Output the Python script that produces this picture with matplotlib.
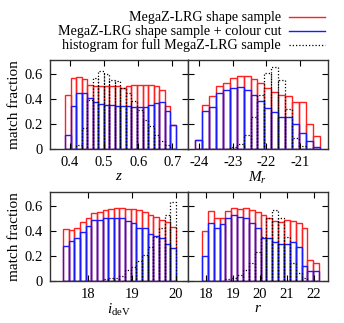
import numpy as np
import matplotlib
matplotlib.use("Agg")
import matplotlib.pyplot as plt
from matplotlib.lines import Line2D

plt.rcParams['font.family'] = ['Liberation Serif', 'DejaVu Serif']
plt.rcParams['mathtext.fontset'] = 'custom'
plt.rcParams['mathtext.rm'] = 'Liberation Serif'
plt.rcParams['mathtext.it'] = 'Liberation Serif:italic'
plt.rcParams['font.size'] = 10.5

# ---- data: z panel ----
z_start, z_width = 0.385, 0.01625
z_red = [0.43, 0.565, 0.573, 0.557, 0.51, 0.50, 0.50, 0.50, 0.50, 0.50,
         0.49, 0.50, 0.51, 0.51, 0.51, 0.51, 0.50, 0.47, 0.345, 0.194]
z_blue = [0.114, 0.345, 0.445, 0.45, 0.406, 0.374, 0.358, 0.353, 0.353, 0.347,
          0.347, 0.34, 0.332, 0.332, 0.337, 0.353, 0.366, 0.371, 0.30, 0.194]
z_full = [0.0, 0.0, 0.035, 0.167, 0.39, 0.57, 0.62, 0.60, 0.55, 0.54,
          0.485, 0.445, 0.38, 0.313, 0.233, 0.18, 0.114, 0.066, 0.03, 0.0]

# ---- data: M_r panel ----
m_start, m_width = -24.12, 0.206
m_red = [0.075, 0.35, 0.425, 0.50, 0.525, 0.565, 0.58, 0.58, 0.56, 0.527,
         0.487, 0.457, 0.43, 0.425, 0.376, 0.376, 0.196, 0.10]
m_blue = [0.075, 0.30, 0.336, 0.446, 0.47, 0.49, 0.497, 0.47, 0.43, 0.385,
          0.33, 0.296, 0.258, 0.258, 0.196, 0.124, 0.062, 0.016]
m_full = [0.0, 0.0, 0.0, 0.0, 0.0, 0.016, 0.04, 0.115, 0.255, 0.43,
          0.61, 0.655, 0.55, 0.32, 0.09, 0.02, 0.0, 0.0]

# ---- data: i_deV panel ----
i_start, i_width = 17.42, 0.129
i_red = [0.414, 0.41, 0.424, 0.467, 0.50, 0.546, 0.552, 0.568, 0.573, 0.586,
         0.586, 0.578, 0.573, 0.57, 0.552, 0.53, 0.512, 0.485, 0.472, 0.427]
i_blue = [0.28, 0.318, 0.345, 0.393, 0.44, 0.485, 0.485, 0.50, 0.504, 0.50,
          0.50, 0.48, 0.464, 0.424, 0.42, 0.374, 0.36, 0.34, 0.294, 0.265]
i_full = [0.0, 0.0, 0.0, 0.0, 0.0, 0.0, 0.0, 0.013, 0.02, 0.027,
          0.04, 0.088, 0.11, 0.16, 0.207, 0.273, 0.353, 0.424, 0.525, 0.63]

# ---- data: r panel ----
r_start, r_width = 17.85, 0.217
r_red = [0.40, 0.557, 0.504, 0.504, 0.56, 0.584, 0.578, 0.584, 0.57, 0.552,
         0.525, 0.50, 0.477, 0.472, 0.485, 0.477, 0.464, 0.42, 0.167, 0.14]
r_blue = [0.20, 0.459, 0.424, 0.451, 0.50, 0.525, 0.512, 0.504, 0.464, 0.424,
          0.345, 0.345, 0.308, 0.297, 0.292, 0.308, 0.273, 0.12, 0.08, 0.08]
r_full = [0.0, 0.0, 0.0, 0.0, 0.016, 0.027, 0.048, 0.088, 0.14, 0.228,
          0.353, 0.50, 0.57, 0.50, 0.353, 0.14, 0.06, 0.027, 0.0, 0.0]

legend_labels = ["MegaZ-LRG shape sample",
                 "MegaZ-LRG shape sample + colour cut",
                 "histogram for full MegaZ-LRG sample"]

W, H = 344, 323
fig = plt.figure(figsize=(W / 100, H / 100), dpi=100)

def box(x0, y0, x1, y1):
    return [x0 / W, 1 - y1 / H, (x1 - x0) / W, (y1 - y0) / H]

panels = [
    (box(50, 60, 188, 149), z_start, z_width, z_red, z_blue, z_full,
     (0.341, 0.746), [0.4, 0.5, 0.6, 0.7], ['0.4', '0.5', '0.6', '0.7'], r'$z$', True),
    (box(188, 60, 328, 149), m_start, m_width, m_red, m_blue, m_full,
     (-24.33, -20.17), [-24, -23, -22, -21], ['-24', '-23', '-22', '-21'], r'$M_r$', False),
    (box(50, 192, 188, 281), i_start, i_width, i_red, i_blue, i_full,
     (17.12, 20.28), [18, 19, 20], ['18', '19', '20'], r'$i_{\rm deV}$', True),
    (box(188, 192, 328, 281), r_start, r_width, r_red, r_blue, r_full,
     (17.33, 22.52), [18, 19, 20, 21, 22], ['18', '19', '20', '21', '22'], r'$r$', False),
]

dot = (0, (1, 1.6))
for (rect, start, width, red, blue, full, xlim, xt, xtl, xlab, left) in panels:
    ax = fig.add_axes(rect)
    n = len(red)
    x = start + width * np.arange(n)
    ax.bar(x, red, width=width, align='edge', fill=False,
           edgecolor='#ff2020', linewidth=1.0)
    ax.bar(x, blue, width=width, align='edge', fill=False,
           edgecolor='#1a1aff', linewidth=1.0)
    ax.bar(x, full, width=width, align='edge', fill=False,
           edgecolor='black', linewidth=0.9, linestyle=dot)
    ax.set_xlim(*xlim)
    ax.set_ylim(0, 0.71)
    ax.set_xticks(xt)
    ax.set_xticklabels(xtl)
    ax.set_yticks([0, 0.2, 0.4, 0.6])
    if left:
        ax.set_yticklabels(['0', '0.2', '0.4', '0.6'])
        ax.set_ylabel('match fraction', fontsize=11, labelpad=3)
    else:
        ax.set_yticklabels([])
    ax.tick_params(direction='in', top=True, right=True, length=4,
                   width=0.8, pad=5, labelsize=10.5)
    ax.set_xlabel(xlab, fontsize=11, labelpad=1)
    for s in ax.spines.values():
        s.set_linewidth(1.0)
        s.set_color('#333333')

# legend drawn in figure coords
ys = [17, 31, 45]
styles = [dict(color='#ff2020', lw=1.0), dict(color='#1a1aff', lw=1.0),
          dict(color='black', lw=0.9, linestyle=dot)]
for lab, yy, st in zip(legend_labels, ys, styles):
    fig.text(281 / W, 1 - yy / H, lab, ha='right', va='center', fontsize=10.1)
    fig.add_artist(Line2D([289 / W, 325 / W], [1 - yy / H, 1 - yy / H],
                          transform=fig.transFigure, **st))

fig.savefig('out.png', dpi=100)
